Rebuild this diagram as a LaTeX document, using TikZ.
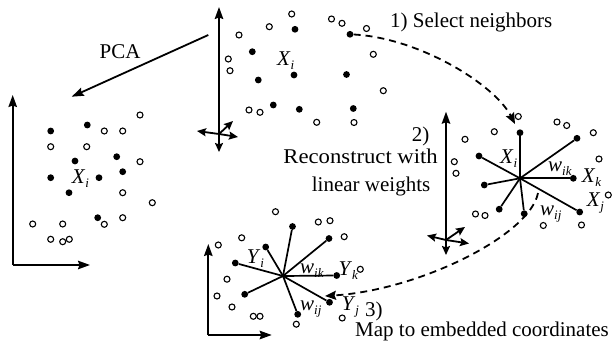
\documentclass[tikz,border=0pt]{standalone}
\usepackage{fontspec}
\setmainfont{Liberation Serif}
\usetikzlibrary{arrows.meta}
% italic symbol with an italic subscript (subscript takes no vertical room)
\newcommand\lbl[2]{\textit{#1}\raisebox{-4.5pt}[0pt][0pt]{\fontsize{13}{13}\selectfont\textit{#2}}}
\begin{document}
\begin{tikzpicture}[x=1pt,y=-1pt,
  fdot/.style={circle, fill=black, inner sep=0pt, minimum size=6.8pt},
  odot/.style={circle, draw=black, fill=white, line width=1.1pt, inner sep=0pt, minimum size=6pt},
  hub/.style={circle, fill=black, inner sep=0pt, minimum size=3pt},
  axis/.style={line width=1.8pt, -{Stealth[length=12pt,width=8.5pt,inset=1.5pt]}},
  tri/.style={line width=1.8pt, -{Stealth[length=9pt,width=8pt,inset=1.5pt]}},
  spoke/.style={line width=1.7pt},
  flow/.style={line width=1.8pt, dash pattern=on 7pt off 5pt, -{Stealth[length=11pt,width=9pt,inset=1.5pt]}},
  txt/.style={font=\fontsize{21}{25}\selectfont, inner sep=0pt},
  sym/.style={txt, anchor=base west}]
\useasboundingbox (0,0) rectangle (614,343);

% ---------- original data cloud (top) ----------
\coordinate (c1) at (219,134);
\coordinate (c1up) at (219,7);
\coordinate (c1l) at (197,131);
\coordinate (c1r) at (238,137);
\coordinate (c1u) at (233,121);
\coordinate (c1d) at (219,152);
\draw[axis] (c1) -- (c1up);
\foreach \t in {c1l,c1r,c1u,c1d} \draw[tri] (c1) -- (\t);
\foreach \x/\y [count=\k] in {291.7/14, 331.5/19, 342/23.3, 366.5/28.5, 269.3/26.7, 239/35,
    228.3/59, 230/70.7, 373.3/54.3, 383.3/90.7, 249/110, 260/112.3, 316.7/122.3, 354/122.5}
  \node[odot] (to\k) at (\x,\y) {};
\foreach \x/\y [count=\k] in {295/29.3, 252.3/51.7, 258.3/80, 294/75, 346.5/74.5,
    273.3/105, 299.3/109.3, 353.3/108.5}
  \node[fdot] (tf\k) at (\x,\y) {};
\node[fdot] (src1) at (350,34.3) {};
\node[sym] (lx1) at (277,65) {\lbl{X}{i}};

% ---------- PCA projection (left) ----------
\coordinate (pcas) at (208.3,35);
\coordinate (pcae) at (71.7,96.7);
\draw[axis] (pcas) -- (pcae);
\node[txt, anchor=base] (pca) at (120,58) {PCA};
\coordinate (o2) at (12.7,265);
\coordinate (o2y) at (12.7,95);
\coordinate (o2x) at (90,265);
\draw[axis] (o2) -- (o2y);
\draw[axis] (o2) -- (o2x);
\foreach \x/\y [count=\k] in {50.7/131, 87.3/125, 75/161, 116.7/156.7, 50.7/177.7, 99/177.7,
    122.7/171.7, 69/192.7, 97.7/217.7}
  \node[fdot] (lf\k) at (\x,\y) {};
\foreach \x/\y [count=\k] in {140/115, 104.3/131, 122.7/131, 50.7/146.7, 86.7/146.7, 140/161.7,
    122.7/192.7, 152.3/202.7, 122.7/217.7, 104.3/224.3, 32.7/224, 62.7/224, 50.7/239.3,
    62.7/241.7, 69.3/239.3}
  \node[odot] (lo\k) at (\x,\y) {};
\node[sym] (lx2) at (71.7,183) {\lbl{X}{i}};

% ---------- step 1 ----------
\node[txt, anchor=base west] (s1) at (390,27) {1) Select neighbors};
\coordinate (end1) at (515,124);
\draw[flow] (src1) .. controls (420,38) and (495,85) .. (end1);

% ---------- step 2: reconstruction (right) ----------
\node[txt, anchor=base west] (s2a) at (411.7,141.5) {2)};
\node[txt, anchor=base east] (s2b) at (438,163) {\scalebox{1.08}[1]{Reconstruct with}};
\node[txt, anchor=base west] (s2c) at (311.7,191.5) {linear weights};
\coordinate (c3) at (446,240);
\coordinate (c3up) at (446,111.7);
\coordinate (c3l) at (427,235.5);
\coordinate (c3r) at (469,243.5);
\coordinate (c3u) at (465,227);
\coordinate (c3d) at (446,255);
\draw[axis] (c3) -- (c3up);
\foreach \t in {c3l,c3r,c3u,c3d} \draw[tri] (c3) -- (\t);
\foreach \x/\y [count=\k] in {518.3/116.5, 494.3/131.7, 465/139.3, 557/122, 566.7/125.5,
    593.3/132.7, 599/159, 454.3/161.7, 456/173.3, 608.3/195, 475.5/214, 485/215.5,
    543.3/225.5, 581.5/225}
  \node[odot] (ro\k) at (\x,\y) {};
\node[hub] (rc) at (520,178.3) {};
\foreach \x/\y [count=\k] in {520/132.7, 577/138.3, 573.3/178.3, 579.7/212, 524.2/213.7,
    499.2/209.2, 484.3/185, 479/156}
  {\node[fdot] (rf\k) at (\x,\y) {};
   \draw[spoke] (rc.center) -- (rf\k);}
\node[sym] (rxi) at (500,163) {\lbl{X}{i}};
\node[sym] (rwik) at (548,171) {\lbl{w}{ik}};
\node[sym] (rxk) at (581.7,182) {\lbl{X}{k}};
\node[sym] (rxj) at (586.7,206) {\lbl{X}{j}};
\node[sym] (rwij) at (540,215) {\lbl{w}{ij}};

% ---------- step 3: embedding (bottom) ----------
\coordinate (st3) at (538,193);
\coordinate (end3) at (325,296);
\draw[flow] (st3) .. controls (530,235) and (420,290) .. (end3);
\node[txt, anchor=base west] (s3a) at (365,316) {3)};
\node[txt, anchor=base west] (s3b) at (355,336.5) {Map to embedded coordinates};
\coordinate (o4) at (208.3,335);
\coordinate (o4y) at (208.3,244);
\coordinate (o4x) at (271.7,335);
\draw[axis] (o4) -- (o4y);
\draw[axis] (o4) -- (o4x);
\foreach \x/\y [count=\k] in {275.5/211.7, 318.3/222, 330/220.7, 344.2/236.7, 360.3/269.3,
    241.7/237.8, 218.3/245, 227/279.2, 217/296, 232/307, 253.3/316.3, 260/316.3,
    296.3/324.2, 342.2/318}
  \node[odot] (bo\k) at (\x,\y) {};
\node[hub] (bc) at (283,276) {};
\foreach \x/\y [count=\k] in {292.5/226.5, 329/238.5, 336.7/275.5, 329.5/302.3, 297.7/314.3,
    244.7/294.3, 235.3/263, 265.7/247}
  {\node[fdot] (bf\k) at (\x,\y) {};
   \draw[spoke] (bc.center) -- (bf\k);}
\node[sym] (byi) at (246.7,263) {\lbl{Y}{i}};
\node[sym] (bwik) at (300,273) {\lbl{w}{ik}};
\node[sym] (byk) at (338.3,275) {\lbl{Y}{k}};
\node[sym] (bwij) at (300,310) {\lbl{w}{ij}};
\node[sym] (byj) at (341.7,310) {\lbl{Y}{j}};
\end{tikzpicture}
\end{document}
